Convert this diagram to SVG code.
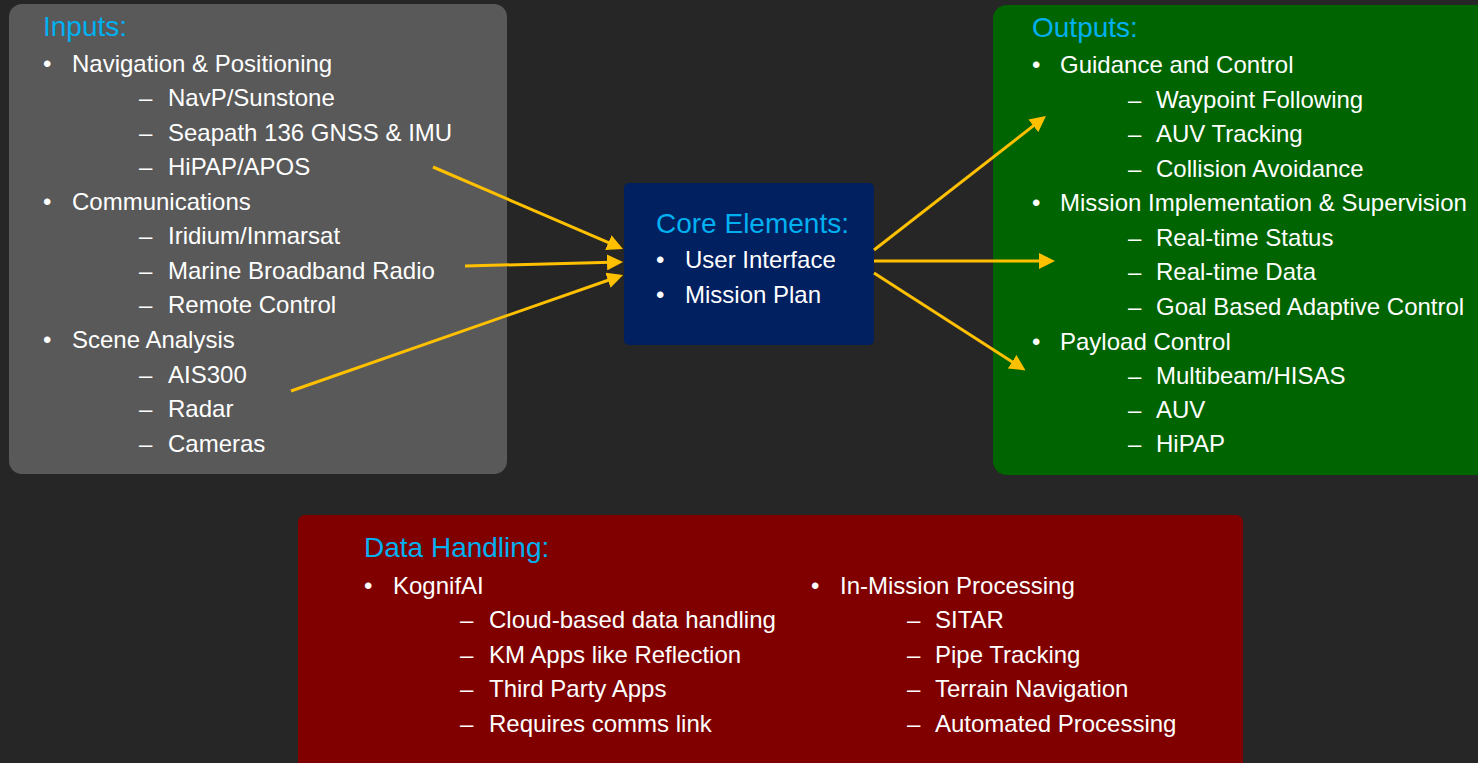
<svg xmlns="http://www.w3.org/2000/svg" width="1478" height="763" viewBox="0 0 1478 763">
<style>
text{font-family:"Liberation Sans",Arial,sans-serif;fill:#ffffff;font-size:24px}
.t{fill:#00b0f0;font-size:28px}
.c{stroke:#ffc000;stroke-width:3;fill:none;marker-end:url(#ah)}
</style>
<defs>
<marker id="ah" markerUnits="userSpaceOnUse" markerWidth="16" markerHeight="16" refX="4" refY="8" orient="auto" viewBox="0 0 16 16">
<path d="M0,0 L16,8 L0,16 Z" fill="#ffc000"/>
</marker>
</defs>
<rect x="0" y="0" width="1478" height="763" fill="#262626"/>
<g id="inputs">
<rect x="9" y="4" width="498" height="470" rx="13" fill="#595959"/>
<text class="t" x="43" y="36">Inputs:</text>
<text x="43" y="72">•</text><text x="72" y="72">Navigation &amp; Positioning</text>
<text x="139" y="106">–</text><text x="168" y="106">NavP/Sunstone</text>
<text x="139" y="141">–</text><text x="168" y="141">Seapath 136 GNSS &amp; IMU</text>
<text x="139" y="175">–</text><text x="168" y="175">HiPAP/APOS</text>
<text x="43" y="210">•</text><text x="72" y="210">Communications</text>
<text x="139" y="244">–</text><text x="168" y="244">Iridium/Inmarsat</text>
<text x="139" y="279">–</text><text x="168" y="279">Marine Broadband Radio</text>
<text x="139" y="313">–</text><text x="168" y="313">Remote Control</text>
<text x="43" y="348">•</text><text x="72" y="348">Scene Analysis</text>
<text x="139" y="383">–</text><text x="168" y="383">AIS300</text>
<text x="139" y="417">–</text><text x="168" y="417">Radar</text>
<text x="139" y="452">–</text><text x="168" y="452">Cameras</text>
</g>
<g id="core">
<rect x="624" y="183" width="250" height="162" rx="5" fill="#002060"/>
<text class="t" x="656" y="233">Core Elements:</text>
<text x="656" y="268">•</text><text x="685" y="268">User Interface</text>
<text x="656" y="303">•</text><text x="685" y="303">Mission Plan</text>
</g>
<g id="outputs">
<rect x="993" y="5" width="520" height="470" rx="14" fill="#006400"/>
<text class="t" x="1032" y="37">Outputs:</text>
<text x="1032" y="73">•</text><text x="1060" y="73">Guidance and Control</text>
<text x="1128" y="108">–</text><text x="1156" y="108">Waypoint Following</text>
<text x="1128" y="142">–</text><text x="1156" y="142">AUV Tracking</text>
<text x="1128" y="177">–</text><text x="1156" y="177">Collision Avoidance</text>
<text x="1032" y="211">•</text><text x="1060" y="211">Mission Implementation &amp; Supervision</text>
<text x="1128" y="246">–</text><text x="1156" y="246">Real-time Status</text>
<text x="1128" y="280">–</text><text x="1156" y="280">Real-time Data</text>
<text x="1128" y="315">–</text><text x="1156" y="315">Goal Based Adaptive Control</text>
<text x="1032" y="350">•</text><text x="1060" y="350">Payload Control</text>
<text x="1128" y="384">–</text><text x="1156" y="384">Multibeam/HISAS</text>
<text x="1128" y="418">–</text><text x="1156" y="418">AUV</text>
<text x="1128" y="452">–</text><text x="1156" y="452">HiPAP</text>
</g>
<g id="data">
<rect x="298" y="515" width="945" height="270" rx="7" fill="#800000"/>
<text class="t" x="364" y="557">Data Handling:</text>
<text x="364" y="594">•</text><text x="393" y="594">KognifAI</text>
<text x="460" y="628">–</text><text x="489" y="628">Cloud-based data handling</text>
<text x="460" y="663">–</text><text x="489" y="663">KM Apps like Reflection</text>
<text x="460" y="697">–</text><text x="489" y="697">Third Party Apps</text>
<text x="460" y="732">–</text><text x="489" y="732">Requires comms link</text>
<text x="811" y="594">•</text><text x="840" y="594">In-Mission Processing</text>
<text x="907" y="628">–</text><text x="935" y="628">SITAR</text>
<text x="907" y="663">–</text><text x="935" y="663">Pipe Tracking</text>
<text x="907" y="697">–</text><text x="935" y="697">Terrain Navigation</text>
<text x="907" y="732">–</text><text x="935" y="732">Automated Processing</text>
</g>
<g id="connectors">
<line class="c" x1="433" y1="167" x2="612" y2="244.2"/>
<line class="c" x1="465" y1="266" x2="611" y2="262.3"/>
<line class="c" x1="291" y1="391" x2="611.7" y2="279"/>
<line class="c" x1="874" y1="250" x2="1036.5" y2="123.4"/>
<line class="c" x1="874" y1="261" x2="1043" y2="261"/>
<line class="c" x1="874" y1="273" x2="1015.5" y2="363.9"/>
</g>
</svg>
